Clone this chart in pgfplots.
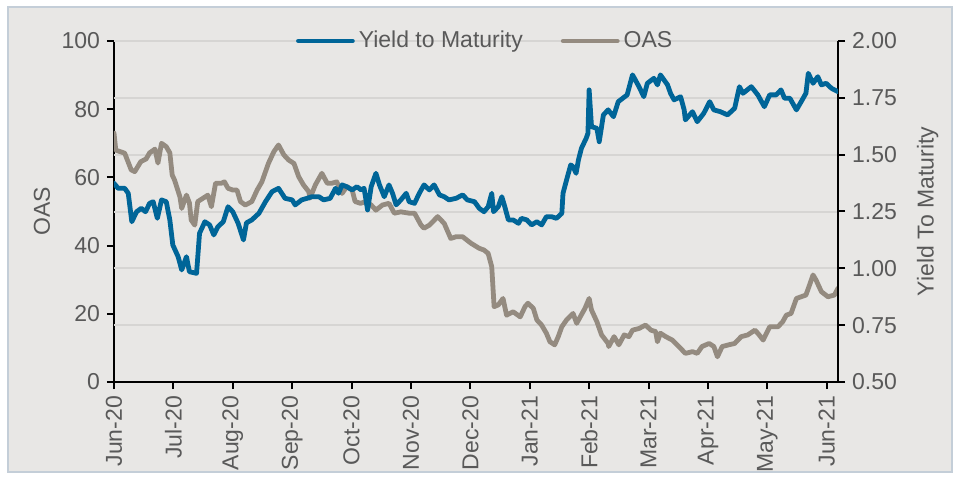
\documentclass[border=0pt]{standalone}
\usepackage{fontspec}
\setmainfont{Liberation Sans}
\usepackage{pgfplots}
\usepackage{pgfplotstable}
\pgfplotsset{compat=1.18}
\definecolor{ytmblue}{RGB}{0,101,152}
\definecolor{oasgray}{RGB}{148,139,128}
\definecolor{bggray}{RGB}{232,231,229}
\definecolor{gridgray}{RGB}{214,213,211}
\definecolor{txtgray}{RGB}{89,89,89}
\definecolor{framec}{RGB}{196,206,216}

% x = months since 1 Jun 2020
\pgfplotstableread{
m oas
0.00 73.0
0.03 68.0
0.18 67.1
0.29 62.2
0.35 61.7
0.45 64.6
0.54 65.4
0.60 67.2
0.69 68.3
0.74 64.2
0.80 70.0
0.88 69.0
0.94 67.2
0.98 60.7
1.02 59.2
1.11 54.3
1.14 50.9
1.22 54.8
1.27 52.5
1.30 47.5
1.36 46.0
1.41 52.9
1.50 53.9
1.58 54.8
1.64 51.4
1.71 58.3
1.81 58.3
1.86 58.7
1.92 56.8
2.00 56.3
2.07 56.3
2.13 52.9
2.21 51.9
2.32 52.9
2.41 56.3
2.49 58.7
2.60 64.1
2.69 67.5
2.77 69.5
2.86 66.6
2.94 65.1
3.03 64.1
3.11 60.2
3.19 57.8
3.28 55.8
3.30 53.9
3.39 57.8
3.50 61.2
3.59 58.3
3.67 58.3
3.75 58.7
3.84 55.3
3.92 57.3
4.01 56.3
4.06 52.9
4.15 52.4
4.24 52.9
4.33 51.9
4.41 50.4
4.52 51.9
4.63 52.4
4.72 49.5
4.83 49.9
4.97 49.5
5.06 49.5
5.17 46.0
5.22 45.1
5.31 46.0
5.45 48.5
5.56 46.5
5.67 42.1
5.76 42.6
5.87 42.6
6.01 40.7
6.15 39.2
6.23 38.7
6.30 37.7
6.36 33.8
6.40 22.1
6.47 22.6
6.55 24.5
6.61 19.6
6.72 20.6
6.84 19.1
6.92 22.1
6.97 23.1
7.06 21.6
7.12 18.2
7.20 16.7
7.28 14.3
7.34 11.8
7.42 10.9
7.48 13.3
7.54 16.2
7.62 18.2
7.73 20.1
7.79 17.2
7.85 19.1
7.93 21.6
8.00 24.5
8.04 21.1
8.13 17.7
8.21 13.8
8.32 11.3
8.33 10.4
8.42 13.3
8.50 10.9
8.59 13.8
8.67 13.3
8.73 15.2
8.84 15.7
8.95 16.7
9.04 15.2
9.12 14.8
9.15 11.8
9.20 14.3
9.29 13.3
9.40 12.3
9.51 10.4
9.62 8.4
9.74 8.9
9.82 8.4
9.90 10.4
10.02 11.3
10.10 10.4
10.16 7.4
10.24 10.4
10.35 10.9
10.45 11.3
10.56 13.3
10.67 13.8
10.79 15.2
10.84 14.3
10.93 12.3
11.04 16.2
11.18 16.2
11.26 17.7
11.32 19.6
11.40 20.1
11.49 24.5
11.57 25.0
11.65 25.5
11.71 28.4
11.77 31.4
11.82 29.9
11.91 26.5
12.02 25.0
12.13 25.5
12.19 27.5
}\oastable

\pgfplotstableread{
m ytm
0.00 1.374
0.07 1.352
0.18 1.352
0.24 1.330
0.30 1.205
0.38 1.249
0.46 1.264
0.53 1.249
0.60 1.286
0.66 1.293
0.73 1.220
0.80 1.301
0.88 1.293
0.94 1.213
0.99 1.103
1.08 1.051
1.14 0.993
1.22 1.051
1.27 0.985
1.39 0.978
1.44 1.154
1.53 1.205
1.61 1.191
1.68 1.147
1.75 1.183
1.84 1.205
1.92 1.271
2.00 1.249
2.09 1.198
2.18 1.125
2.23 1.200
2.32 1.213
2.44 1.242
2.55 1.293
2.66 1.337
2.77 1.352
2.88 1.308
3.00 1.301
3.05 1.279
3.16 1.301
3.25 1.308
3.33 1.315
3.45 1.315
3.53 1.301
3.64 1.308
3.73 1.352
3.78 1.330
3.84 1.367
3.92 1.359
4.01 1.345
4.09 1.359
4.16 1.345
4.21 1.352
4.27 1.257
4.33 1.359
4.41 1.418
4.47 1.367
4.55 1.315
4.63 1.367
4.69 1.330
4.75 1.279
4.83 1.301
4.92 1.330
4.97 1.293
5.06 1.286
5.14 1.330
5.22 1.367
5.31 1.345
5.39 1.367
5.48 1.323
5.56 1.315
5.64 1.301
5.76 1.308
5.87 1.323
5.95 1.301
6.07 1.293
6.15 1.264
6.23 1.249
6.30 1.271
6.36 1.330
6.39 1.249
6.47 1.271
6.53 1.315
6.58 1.271
6.64 1.213
6.72 1.213
6.81 1.198
6.86 1.220
6.95 1.213
7.03 1.191
7.12 1.205
7.20 1.191
7.28 1.227
7.37 1.227
7.45 1.220
7.54 1.242
7.56 1.330
7.62 1.389
7.69 1.455
7.73 1.447
7.78 1.418
7.82 1.477
7.87 1.528
7.95 1.572
7.98 1.594
8.00 1.785
8.04 1.623
8.13 1.616
8.17 1.557
8.24 1.675
8.32 1.697
8.41 1.667
8.49 1.733
8.64 1.763
8.73 1.851
8.84 1.799
8.92 1.755
8.98 1.814
9.09 1.836
9.15 1.807
9.20 1.851
9.32 1.807
9.37 1.770
9.43 1.741
9.54 1.755
9.60 1.697
9.62 1.653
9.74 1.689
9.82 1.645
9.93 1.682
10.03 1.733
10.10 1.697
10.21 1.689
10.33 1.675
10.45 1.704
10.53 1.799
10.59 1.770
10.73 1.799
10.84 1.763
10.95 1.711
11.04 1.763
11.15 1.763
11.23 1.785
11.29 1.748
11.38 1.748
11.49 1.697
11.57 1.733
11.65 1.770
11.69 1.858
11.77 1.814
11.85 1.843
11.91 1.807
11.99 1.814
12.08 1.792
12.19 1.777
}\ytmtable

\pgfplotsset{
  common/.style={
    scale only axis, width=362pt, height=170.5pt,
    xmin=0, xmax=12.19,
    tick align=outside, major tick length=3.5pt,
    every tick label/.append style={font=\fontsize{11.5}{13}\selectfont, text=txtgray},
    label style={font=\fontsize{11.5}{13}\selectfont, text=txtgray},
    /pgf/number format/assume math mode=true,
    axis line style={black, line width=1pt},
    every tick/.style={black, line width=1pt},
  }
}

\begin{document}
\begin{tikzpicture}
\useasboundingbox (-57pt,-47.5pt) rectangle (422.5pt,191pt);
\fill[white] (-57pt,-47.5pt) rectangle (422.5pt,191pt);
\filldraw[fill=bggray, draw=framec, line width=0.75pt] (-53pt,-45pt) rectangle (419pt,187.5pt);

\begin{axis}[common,
  axis x line*=bottom, axis y line*=left,
  ymin=0, ymax=100, ytick={0,20,40,60,80,100},
  xtick={0,1,2,3,4,5,6,7,8,9,10,11,12},
  xticklabels={Jun-20,Jul-20,Aug-20,Sep-20,Oct-20,Nov-20,Dec-20,Jan-21,Feb-21,Mar-21,Apr-21,May-21,Jun-21},
  xticklabel style={rotate=90, anchor=east},
  extra y ticks={16.667,33.333,50,66.667,83.333,100},
  extra y tick labels={},
  extra y tick style={grid=major, major tick length=0pt, major grid style={gridgray, line width=1pt}},
  ylabel={OAS},
  ylabel style={at={(axis description cs:-0.0994,0.5)}, anchor=center},
]
\addplot[oasgray, line width=2.4pt, line join=round, line cap=round] table[x=m, y=oas] {\oastable};
\end{axis}

\begin{axis}[common,
  axis y line*=right, axis x line=none,
  ymin=0.5, ymax=2, ytick={0.5,0.75,1.0,1.25,1.5,1.75,2.0},
  yticklabel style={/pgf/number format/.cd, fixed, fixed zerofill, precision=2},
  ylabel={Yield To Maturity},
  ylabel style={at={(axis description cs:1.124,0.5)}, anchor=center},
  legend style={at={(axis description cs:0.514,1)}, anchor=center, draw=none, fill=none,
    font=\fontsize{11.5}{13}\selectfont, text=txtgray,
    /tikz/every even column/.append style={column sep=17pt}},
  legend columns=2,
  legend image code/.code={\draw[#1] (0pt,0pt) -- (27pt,0pt);},
]
\addplot[ytmblue, line width=2.4pt, line join=round, line cap=round] table[x=m, y=ytm] {\ytmtable};
\addlegendentry{Yield to Maturity}
\addlegendimage{oasgray, line width=2.4pt, line cap=round}
\addlegendentry{OAS}
\end{axis}
\end{tikzpicture}
\end{document}
